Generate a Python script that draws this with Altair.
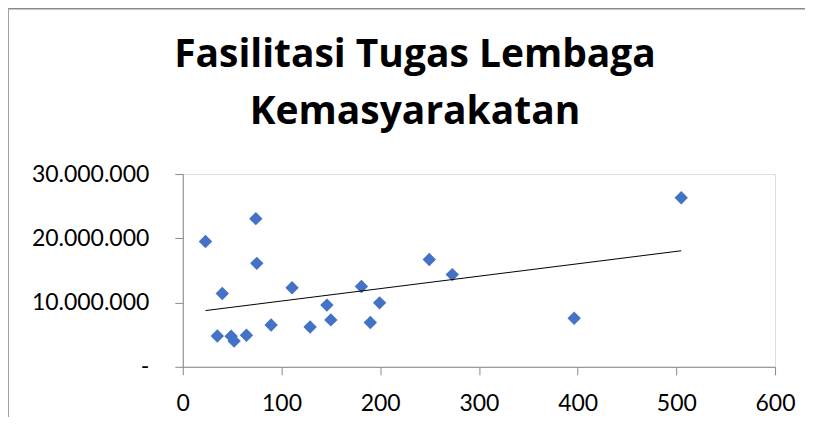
import altair as alt
import pandas as pd

# Data
jumlah = [23, 74, 75, 40, 35, 49, 52, 64.5, 89.5, 110.7, 129, 146, 150, 181, 190, 199.4, 249.7, 273, 396.5, 505]
anggaran = [19500000, 23060000, 16100000, 11400000, 4800000, 4760000, 4000000, 4900000,
            6500000, 12300000, 6200000, 9600000, 7300000, 12500000, 6900000, 9950000,
            16700000, 14350000, 7560000, 26300000]
x_ticks = [0, 100, 200, 300, 400, 500, 600]
y_ticks = [0, 10000000, 20000000, 30000000]
title_lines = ["Fasilitasi Tugas Lembaga", "Kemasyarakatan"]

df = pd.DataFrame({"x": jumlah, "y": anggaran})

AXIS_GRAY = "#898989"
FONT = "Lato"

x_enc = alt.X("x:Q", scale=alt.Scale(domain=[0, 600], nice=False, zero=True),
              axis=alt.Axis(values=x_ticks, title=None, grid=False, domainColor=AXIS_GRAY,
                            tickColor=AXIS_GRAY, tickSize=8, labelPadding=18,
                            labelFont=FONT, labelFontSize=23, labelColor="#000000",
                            labelFlush=False, labelOverlap=False))
y_enc = alt.Y("y:Q", scale=alt.Scale(domain=[0, 30000000], nice=False),
              axis=alt.Axis(values=y_ticks, title=None, grid=False, domainColor=AXIS_GRAY,
                            tickColor=AXIS_GRAY, tickSize=8, labelPadding=26,
                            labelFont=FONT, labelFontSize=23, labelColor="#000000",
                            labelFlush=False, labelOverlap=False,
                            labelExpr="datum.value == 0 ? '-' : replace(format(datum.value, ',.0f'), /,/g, '.')"))

points = alt.Chart(df).mark_point(shape="diamond", filled=True, size=180,
                                  color="#4472C4", opacity=1).encode(x=x_enc, y=y_enc)

trend = alt.Chart(df).mark_line(color="#000000", strokeWidth=1).transform_regression(
    "x", "y", method="linear").encode(x="x:Q", y="y:Q")

border = alt.Chart(pd.DataFrame({"k": [0]}))
top_border = border.mark_rule(color="#8a8a8a", strokeWidth=1.5).encode(
    x=alt.value(-175), x2=alt.value(630), y=alt.value(-165.5))
left_border = border.mark_rule(color="#a0a0a0", strokeWidth=1).encode(
    x=alt.value(-174.5), y=alt.value(-166), y2=alt.value(260))

chart = alt.layer(points, trend, top_border, left_border).properties(
    width=593, height=193,
    autosize=alt.AutoSizeParams(type="none"),
    padding={"left": 175, "top": 166, "right": 30, "bottom": 50},
    title=alt.TitleParams(text=title_lines, font="Open Sans", fontSize=39, fontWeight="bold",
                          color="#000000", anchor="middle", frame="group", dx=-64,
                          offset=0, dy=124, lineHeight=57),
).configure_view(stroke=None).configure(background="#ffffff")

chart.save("out.html", embed_options={"renderer": "svg", "actions": False})
